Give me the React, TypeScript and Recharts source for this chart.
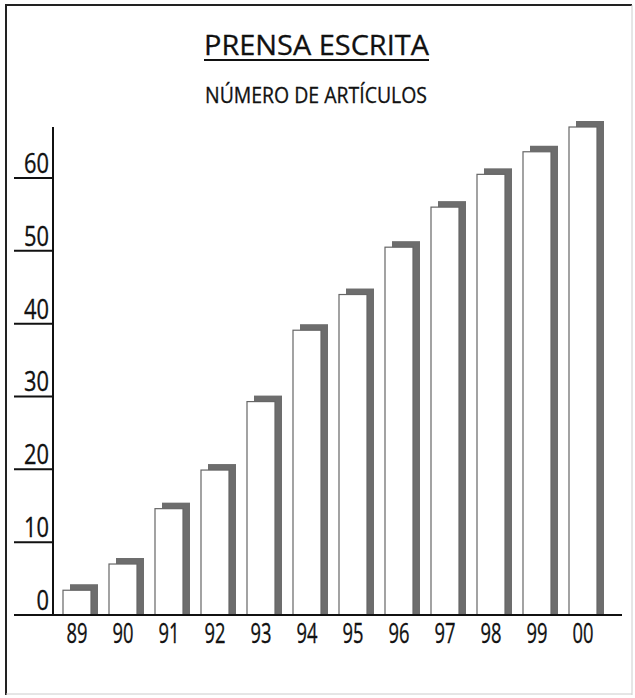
import React from 'react';
import { BarChart, Bar, XAxis, YAxis } from 'recharts';

// años (etiquetas del eje X) y número de artículos
const years = ['89', '90', '91', '92', '93', '94', '95', '96', '97', '98', '99', '00'];
const articles = [3.4, 7, 14.6, 19.9, 29.3, 39.1, 44, 50.5, 56, 60.5, 63.6, 67];
const yTicks = [0, 10, 20, 30, 40, 50, 60];

const data = years.map((year, i) => ({ year, value: articles[i] }));

const FONT = '"Open Sans", "Noto Sans", sans-serif';

// barra blanca con su sombra gris desplazada arriba a la derecha
const ShadowBar = (props: any) => {
    const { x, y, width, height } = props;
    if (height <= 0) return null;
    return (
        <g>
            <rect x={x + 7} y={y - 6} width={width} height={height + 6} fill="#6d6d6d" />
            <rect x={x} y={y} width={width} height={height} fill="#fff" stroke="#666" strokeWidth={1.2} />
        </g>
    );
};

const YTick = (props: any) => {
    const { x, y, payload } = props;
    const label = String(payload.value);
    return (
        <g>
            <line x1={x - 39} y1={y} x2={x} y2={y} stroke="#111" strokeWidth={2} />
            <text
                x={x - 4}
                y={y - 5}
                textAnchor="end"
                fontFamily={FONT}
                fontSize={28}
                fill="#111"
                stroke="#111"
                strokeWidth={0.35}
                textLength={label.length * 12.5}
                lengthAdjust="spacingAndGlyphs"
            >
                {label}
            </text>
        </g>
    );
};

const XTick = (props: any) => {
    const { x, y, payload } = props;
    return (
        <text
            x={x}
            y={y + 28}
            textAnchor="middle"
            fontFamily={FONT}
            fontSize={27}
            fill="#111"
            stroke="#111"
            strokeWidth={0.35}
            textLength={21}
            lengthAdjust="spacingAndGlyphs"
        >
            {payload.value}
        </text>
    );
};

export default function App() {
    return (
        <div style={{ position: 'absolute', left: 0, top: 0, width: 635, height: 698, background: '#fff' }}>
            <BarChart
                width={635}
                height={698}
                data={data}
                margin={{ top: 127, right: 13, bottom: 43, left: 0 }}
                barSize={28}
            >
                <XAxis
                    dataKey="year"
                    axisLine={{ stroke: '#111', strokeWidth: 2 }}
                    tickLine={false}
                    tickSize={0}
                    tickMargin={0}
                    tick={<XTick />}
                    height={40}
                    padding={{ left: 1, right: 16 }}
                    interval={0}
                />
                <YAxis
                    domain={[0, 67]}
                    ticks={yTicks}
                    axisLine={{ stroke: '#111', strokeWidth: 2 }}
                    tickLine={false}
                    tickSize={0}
                    tickMargin={0}
                    tick={<YTick />}
                    width={53}
                />
                <Bar dataKey="value" shape={<ShadowBar />} isAnimationActive={false} />
            </BarChart>

            {/* marco y títulos */}
            <svg width={635} height={698} style={{ position: 'absolute', left: 0, top: 0, pointerEvents: 'none' }}>
                <line x1={6} y1={5} x2={6} y2={695} stroke="#222" strokeWidth={2} />
                <line x1={5} y1={5} x2={632} y2={5} stroke="#222" strokeWidth={2} />
                <line x1={632} y1={5} x2={632} y2={695} stroke="#ccc" strokeWidth={1} />
                <line x1={6} y1={694} x2={632} y2={694} stroke="#ccc" strokeWidth={1} />
                <text
                    x={204}
                    y={55}
                    fontFamily={FONT}
                    fontSize={28}
                    fill="#111"
                    stroke="#111"
                    strokeWidth={0.3}
                    textLength={225}
                    lengthAdjust="spacingAndGlyphs"
                >
                    PRENSA ESCRITA
                </text>
                <line x1={204} y1={60} x2={429} y2={60} stroke="#111" strokeWidth={2} />
                <text
                    x={205}
                    y={103}
                    fontFamily={FONT}
                    fontSize={21}
                    fill="#111"
                    stroke="#111"
                    strokeWidth={0.3}
                    textLength={222}
                    lengthAdjust="spacingAndGlyphs"
                >
                    NÚMERO DE ARTÍCULOS
                </text>
            </svg>
        </div>
    );
}
